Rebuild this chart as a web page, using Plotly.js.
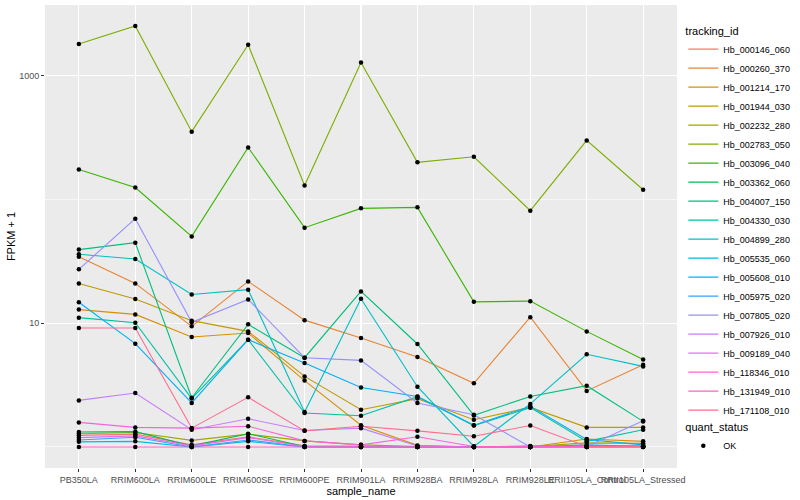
<!DOCTYPE html>
<html>
<head>
<meta charset="utf-8">
<script src="https://cdn.plot.ly/plotly-3.0.1.min.js"></script>
<style>html,body{margin:0;padding:0;background:#fff;}#chart{width:800px;height:500px;}</style>
</head>
<body>
<div id="chart"></div>
<script>
// categories
const samples = ["PB350LA","RRIM600LA","RRIM600LE","RRIM600SE","RRIM600PE","RRIM901LA","RRIM928BA","RRIM928LA","RRIM928LE","RRII105LA_Control","RRII105LA_Stressed"];
// tracking ids (legend order)
const trackingIds = ["Hb_000146_060","Hb_000260_370","Hb_001214_170","Hb_001944_030","Hb_002232_280","Hb_002783_050","Hb_003096_040","Hb_003362_060","Hb_004007_150","Hb_004330_030","Hb_004899_280","Hb_005535_060","Hb_005608_010","Hb_005975_020","Hb_007805_020","Hb_007926_010","Hb_009189_040","Hb_118346_010","Hb_131949_010","Hb_171108_010"];
// FPKM + 1 per sample
const Hb_000146_060 = [1.24, 1.27, 1.04, 1.21, 1.02, 1.01, 1.01, 1.0, 1.02, 1.01, 1.01];
const Hb_000260_370 = [34.5, 21.0, 9.44, 21.8, 10.6, 7.61, 5.34, 3.27, 11.2, 2.84, 4.63];
const Hb_001214_170 = [12.9, 11.8, 7.75, 8.35, 3.44, 1.50, 1.03, 1.0, 1.0, 1.16, 1.11];
const Hb_001944_030 = [21.0, 15.7, 10.5, 8.60, 3.72, 2.00, 2.46, 1.66, 2.09, 1.44, 1.44];
const Hb_002232_280 = [1.28, 1.31, 1.13, 1.27, 1.12, 1.04, 1.01, 1.01, 1.01, 1.08, 1.07];
const Hb_002783_050 = [1811, 2531, 354, 1787, 130, 1285, 200, 222, 81.3, 301, 120];
const Hb_003096_040 = [175, 125, 50.4, 264, 59.3, 84.9, 86.5, 14.9, 15.1, 8.6, 5.1];
const Hb_003362_060 = [1.32, 1.33, 1.02, 1.28, 1.01, 1.0, 1.0, 1.0, 1.0, 1.0, 1.01];
const Hb_004007_150 = [39.4, 44.8, 2.50, 9.80, 5.27, 18.1, 6.80, 1.80, 2.56, 3.13, 1.61];
const Hb_004330_030 = [11.1, 10.1, 2.46, 7.37, 1.88, 1.79, 2.55, 1.49, 2.08, 1.11, 1.38];
const Hb_004899_280 = [36.1, 33.1, 17.1, 18.7, 1.92, 15.8, 3.07, 1.01, 2.23, 5.61, 4.48];
const Hb_005535_060 = [1.10, 1.11, 1.0, 1.11, 1.0, 1.0, 1.0, 1.0, 1.0, 1.04, 1.01];
const Hb_005608_010 = [14.8, 6.84, 2.27, 7.37, 4.78, 3.03, 2.56, 1.50, 2.13, 1.15, 1.04];
const Hb_005975_020 = [1.14, 1.20, 1.0, 1.14, 1.0, 1.0, 1.0, 1.0, 1.0, 1.02, 1.02];
const Hb_007805_020 = [27.3, 70.1, 10.2, 15.6, 5.27, 5.01, 2.27, 1.82, 1.0, 1.01, 1.63];
const Hb_007926_010 = [2.38, 2.73, 1.38, 1.69, 1.36, 1.42, 1.02, 1.0, 1.0, 1.0, 1.0];
const Hb_009189_040 = [1.19, 1.23, 1.02, 1.19, 1.01, 1.0, 1.0, 1.0, 1.0, 1.0, 1.0];
const Hb_118346_010 = [1.58, 1.44, 1.42, 1.47, 1.12, 1.04, 1.21, 1.01, 1.01, 1.01, 1.01];
const Hb_131949_010 = [1.0, 1.0, 1.0, 1.0, 1.0, 1.0, 1.0, 1.0, 1.0, 1.0, 1.0];
const Hb_171108_010 = [9.16, 9.16, 1.42, 2.52, 1.35, 1.47, 1.35, 1.22, 1.49, 1.01, 1.01];
const quantStatus = "OK";
// y axis tick labels
const yTickVals = [10, 1000];
const yTickText = ["10", "1000"];
const yMinorVals = [1, 100];

const seriesValues = [Hb_000146_060, Hb_000260_370, Hb_001214_170, Hb_001944_030, Hb_002232_280, Hb_002783_050, Hb_003096_040, Hb_003362_060, Hb_004007_150, Hb_004330_030, Hb_004899_280, Hb_005535_060, Hb_005608_010, Hb_005975_020, Hb_007805_020, Hb_007926_010, Hb_009189_040, Hb_118346_010, Hb_131949_010, Hb_171108_010];
const palette = ["#F8766D","#EA8331","#D89000","#C09B00","#A3A500","#7CAE00","#39B600","#00BB4E","#00BF7D","#00C1A3","#00BFC4","#00BAE0","#00B0F6","#35A2FF","#9590FF","#C77CFF","#E76BF3","#FA62DB","#FF62BC","#FF6C91"];

const FONT = "Liberation Sans, Arial, sans-serif";
const traces = trackingIds.map((id, i) => ({
  type: "scatter", mode: "lines", name: id,
  x: samples, y: seriesValues[i],
  line: {color: palette[i], width: 1.1},
  legend: "legend", hoverinfo: "skip"
}));
const px = [], py = [];
seriesValues.forEach(v => v.forEach((val, j) => { px.push(samples[j]); py.push(val); }));
traces.push({
  type: "scatter", mode: "markers", name: quantStatus,
  x: px, y: py,
  marker: {color: "#000000", size: 4.5, symbol: "circle"},
  legend: "legend2", hoverinfo: "skip"
});

const layout = {
  width: 800, height: 500,
  margin: {l: 45, r: 115, t: 5, b: 32, pad: 0},
  paper_bgcolor: "#FFFFFF", plot_bgcolor: "#EBEBEB",
  font: {family: FONT, color: "#000000"},
  showlegend: true,
  xaxis: {
    type: "category", categoryorder: "array", categoryarray: samples,
    range: [-0.6, 10.6], showgrid: true, gridcolor: "#FFFFFF", gridwidth: 1.1,
    zeroline: false, showline: false, tickangle: 0,
    ticks: "outside", ticklen: 3, tickcolor: "#333333", tickwidth: 1,
    tickfont: {family: FONT, size: 9, color: "#4D4D4D"},
    title: {text: "sample_name", font: {family: FONT, size: 11, color: "#000000"}, standoff: 2},
    fixedrange: true
  },
  yaxis: {
    type: "log", range: [-0.170, 3.573],
    tickmode: "array", tickvals: yTickVals, ticktext: yTickText,
    showgrid: true, gridcolor: "#FFFFFF", gridwidth: 1.1,
    minor: {tickmode: "array", tickvals: yMinorVals, showgrid: true, gridcolor: "#FFFFFF", gridwidth: 0.55, ticks: ""},
    zeroline: false, showline: false,
    ticks: "outside", ticklen: 3, tickcolor: "#333333", tickwidth: 1,
    tickfont: {family: FONT, size: 9, color: "#4D4D4D"},
    title: {text: "FPKM + 1", font: {family: FONT, size: 11, color: "#000000"}, standoff: 1},
    fixedrange: true
  },
  legend: {
    x: 1.01, xanchor: "left", y: 0.967, yanchor: "top",
    bgcolor: "rgba(0,0,0,0)", borderwidth: 0,
    font: {family: FONT, size: 9, color: "#000000"},
    title: {text: "tracking_id", font: {family: FONT, size: 11, color: "#000000"}},
    tracegroupgap: 0, itemwidth: 30
  },
  legend2: {
    x: 1.01, xanchor: "left", y: 0.11, yanchor: "top",
    bgcolor: "rgba(0,0,0,0)", borderwidth: 0,
    font: {family: FONT, size: 9, color: "#000000"},
    title: {text: "quant_status", font: {family: FONT, size: 11, color: "#000000"}},
    itemsizing: "trace", itemwidth: 30
  }
};
Plotly.newPlot("chart", traces, layout, {displayModeBar: false, staticPlot: true});
</script>
</body>
</html>
